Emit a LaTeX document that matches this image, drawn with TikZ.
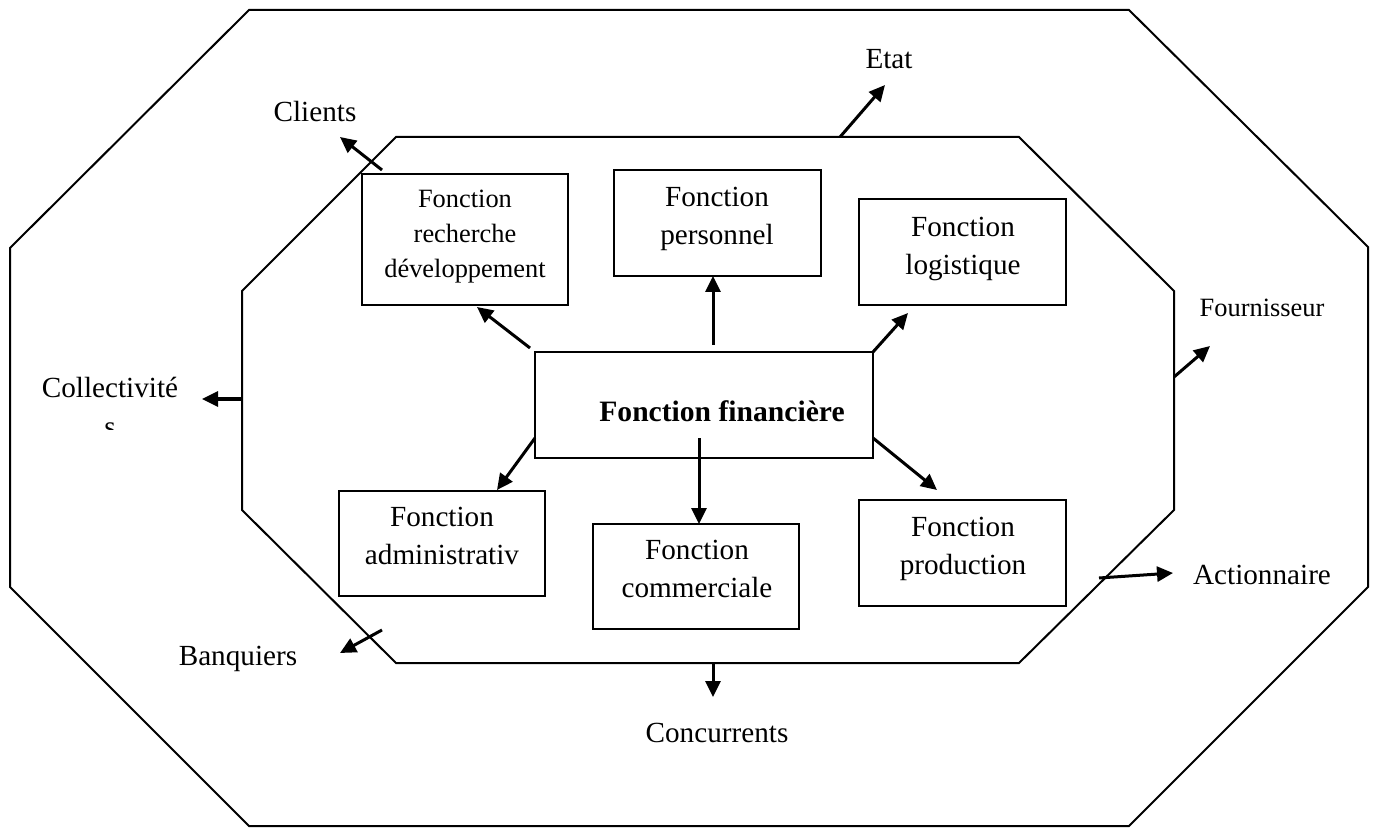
\documentclass[tikz,border=0pt]{standalone}
\usepackage{fontspec}
\setmainfont{Liberation Serif}
\usetikzlibrary{arrows.meta,fit}

\begin{document}
\begin{tikzpicture}[
  x=0.5pt, y=-0.5pt,
  octa/.style={line width=1pt, line join=miter},
  fbox/.style={draw, line width=1.2pt, inner sep=0pt, outer sep=0pt},
  ftext/.style={anchor=north, inner sep=0pt, align=center,
                font=\fontsize{14.6}{19}\selectfont},
  fsmall/.style={anchor=north, inner sep=0pt, align=center,
                font=\fontsize{13.2}{17.5}\selectfont},
  lab/.style={anchor=base, inner sep=0pt, font=\fontsize{14.6}{19}\selectfont},
  labsmall/.style={anchor=base, inner sep=0pt, font=\fontsize{13.2}{17.5}\selectfont},
  arr/.style={line width=1.5pt, -{Triangle[length=8pt,width=7.5pt]}},
]
\useasboundingbox (0,0) rectangle (1375,828);

% environment (outer) and enterprise (inner) octagons
\draw[octa] (249,10) -- (1129,10) -- (1368,247) -- (1368,587) -- (1129,826)
  -- (249,826) -- (10,587) -- (10,248) -- cycle;
\draw[octa] (396,137) -- (1019,137) -- (1174,291) -- (1174,510) -- (1019,663)
  -- (396,663) -- (242,510) -- (242,291) -- cycle;

% function boxes
\node[fbox, fit={(362,174)(568,305)}] (rd) {};
\node[fbox, fit={(614,170)(821,276)}] (pers) {};
\node[fbox, fit={(859,199)(1066,305)}] (logi) {};
\node[fbox, fit={(535,352)(873,458)}] (fin) {};
\node[fbox, fit={(339,491)(545,596)}] (adm) {};
\node[fbox, fit={(593,524)(799,629)}] (com) {};
\node[fbox, fit={(859,500)(1066,606)}] (prod) {};

% box texts
\node[fsmall] (rdT) at (465,190) {Fonction\\recherche\\développement};
\node[ftext] (persT) at (717,187) {Fonction\\personnel};
\node[ftext] (logiT) at (963,217) {Fonction\\logistique};
\node[lab, font=\fontsize{14.8}{18}\bfseries] (finT) at (722,422) {Fonction financière};
\node[ftext] (admT) at (442,507) {Fonction\\administrativ};
\node[ftext] (comT) at (697,540) {Fonction\\commerciale};
\node[ftext] (prodT) at (963,517) {Fonction\\production};

% partners
\node[lab] (etat) at (889,69) {Etat};
\node[lab] (clients) at (315,122) {Clients};
\node[labsmall] (fourn) at (1262,317) {Fournisseur};
\node[lab] (banq) at (238,665) {Banquiers};
\node[lab] (conc) at (717,742) {Concurrents};
\node[lab] (action) at (1262,584) {Actionnaire};
\begin{scope}
  \clip (0,360) rectangle (240,429);
  \node[lab] (coll) at (110,397) {Collectivité};
  \node[lab] (collS) at (110,437) {s};
\end{scope}

% arrow end points
\coordinate (sRd) at (530,348);   \coordinate (tRd) at (477,307);
\coordinate (sPers) at (713,345); \coordinate (tPers) at (713,276);
\coordinate (tLogi) at (908,313);
\coordinate (sProd) at (873,438); \coordinate (tProd) at (937,490);
\coordinate (sCom) at (699,438);  \coordinate (tCom) at (699,524);
\coordinate (sAdm) at (535,438);  \coordinate (tAdm) at (497,490);

\coordinate (eEtat) at (840,137);    \coordinate (tEtat) at (885,85);
\coordinate (eClients) at (382,170); \coordinate (tClients) at (340,137);
\coordinate (eFourn) at (1174,377);  \coordinate (tFourn) at (1210,346);
\coordinate (eColl) at (242,399);    \coordinate (tColl) at (202,399);
\coordinate (eBanq) at (382,630);    \coordinate (tBanq) at (340,653);
\coordinate (eConc) at (713,663);    \coordinate (tConc) at (713,697);
\coordinate (eAction) at (1099,578); \coordinate (tAction) at (1173,573);

% arrows from the financial function to the other functions
\draw[arr] (sRd) -- (tRd);
\draw[arr] (sPers) -- (tPers);
\draw[arr] (fin.north east) -- (tLogi);
\draw[arr] (sProd) -- (tProd);
\draw[arr] (sCom) -- (tCom);
\draw[arr] (sAdm) -- (tAdm);

% arrows towards the environment
\draw[arr] (eEtat) -- (tEtat);
\draw[arr] (eClients) -- (tClients);
\draw[arr] (eFourn) -- (tFourn);
\draw[arr] (eColl) -- (tColl);
\draw[arr] (eBanq) -- (tBanq);
\draw[arr] (eConc) -- (tConc);
\draw[arr] (eAction) -- (tAction);
\end{tikzpicture}
\end{document}
